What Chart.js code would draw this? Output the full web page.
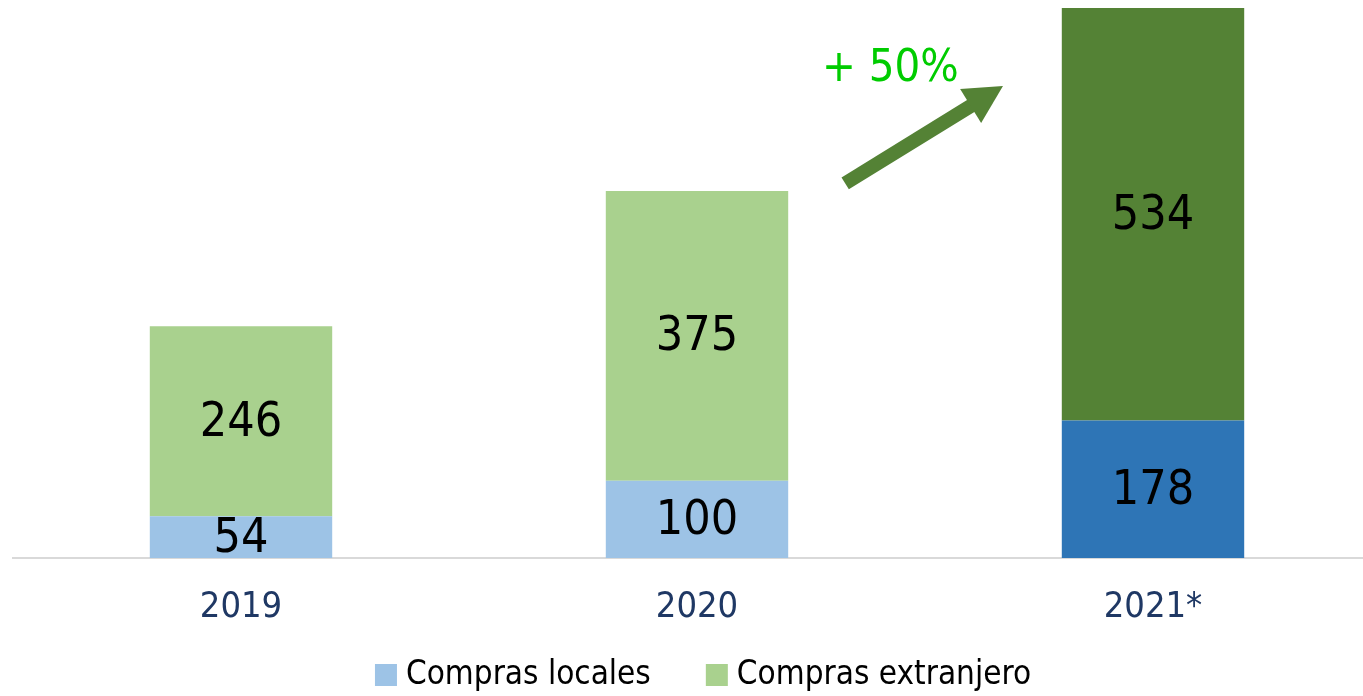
<!DOCTYPE html>
<html>
<head>
<meta charset="utf-8">
<script src="https://cdn.jsdelivr.net/npm/chart.js@4.4.0/dist/chart.umd.min.js"></script>
<style>
  html, body { margin: 0; padding: 0; background: #fff; overflow: hidden; }
  #wrap { position: relative; width: 1390px; height: 696px; }
</style>
</head>
<body>
<div id="wrap"><canvas id="chart"></canvas></div>
<script>
// chart data
const years = ['2019', '2020', '2021*'];
const localPurchases = [54, 100, 178];
const foreignPurchases = [246, 375, 534];
const seriesNames = ['Compras locales', 'Compras extranjero'];
const growthLabel = '+ 50%';

const FONT = '"Liberation Sans Narrow", "DejaVu Sans Condensed", "Roboto", sans-serif';

// colours: 2021 bars are drawn darker
const localColors = ['#9DC3E6', '#9DC3E6', '#2E75B6'];
const foreignColors = ['#A9D18E', '#A9D18E', '#548235'];

// write the value in the middle of each bar segment
const barLabels = {
  id: 'barLabels',
  afterDatasetsDraw(chart) {
    const ctx = chart.ctx;
    ctx.save();
    ctx.font = '48px ' + FONT;
    ctx.fillStyle = '#000';
    ctx.textAlign = 'center';
    ctx.textBaseline = 'middle';
    chart.data.datasets.forEach((ds, i) => {
      chart.getDatasetMeta(i).data.forEach((bar, j) => {
        const y = (bar.y + bar.base) / 2;
        ctx.fillText(String(ds.data[j]), bar.x, y + 2);
      });
    });
    ctx.restore();
  }
};

// growth arrow between 2020 and 2021, placed in data units
const growthArrow = {
  id: 'growthArrow',
  afterDraw(chart) {
    const xs = chart.scales.x, ys = chart.scales.y;
    const ctx = chart.ctx;
    const x0 = xs.getPixelForValue(1.325), y0 = ys.getPixelForValue(485);
    const x1 = xs.getPixelForValue(1.671), y1 = ys.getPixelForValue(611);
    const ang = Math.atan2(y1 - y0, x1 - x0);
    const headLen = 38, headHalf = 20;
    const bx = x1 - headLen * Math.cos(ang), by = y1 - headLen * Math.sin(ang);
    ctx.save();
    ctx.strokeStyle = '#548235';
    ctx.fillStyle = '#548235';
    ctx.lineWidth = 14;
    ctx.beginPath();
    ctx.moveTo(x0, y0);
    ctx.lineTo(bx + 2 * Math.cos(ang), by + 2 * Math.sin(ang));
    ctx.stroke();
    ctx.beginPath();
    ctx.moveTo(x1, y1);
    ctx.lineTo(bx + headHalf * Math.sin(ang), by - headHalf * Math.cos(ang));
    ctx.lineTo(bx - headHalf * Math.sin(ang), by + headHalf * Math.cos(ang));
    ctx.closePath();
    ctx.fill();

    ctx.font = '45px ' + FONT;
    ctx.fillStyle = '#00CC00';
    ctx.textAlign = 'center';
    ctx.textBaseline = 'middle';
    ctx.fillText(growthLabel, xs.getPixelForValue(1.424), ys.getPixelForValue(632));
    ctx.restore();
  }
};

// legend under the axis labels, wider spacing than the built-in one
const bottomLegend = {
  id: 'bottomLegend',
  afterDraw(chart) {
    const ctx = chart.ctx;
    const box = 22, textGap = 9, itemGap = 55;
    ctx.save();
    ctx.font = '33px ' + FONT;
    const items = chart.data.datasets.map(ds => ({
      text: ds.label,
      color: ds.backgroundColor[0],
      w: box + textGap + ctx.measureText(ds.label).width
    }));
    const total = items.reduce((s, it) => s + it.w, 0) + itemGap * (items.length - 1);
    const area = chart.chartArea;
    let x = (area.left + area.right) / 2 + 6 - total / 2;
    const cy = chart.height - 21;
    ctx.textBaseline = 'middle';
    ctx.textAlign = 'left';
    items.forEach(it => {
      ctx.fillStyle = it.color;
      ctx.fillRect(x, cy - box / 2, box, box);
      ctx.fillStyle = '#000';
      ctx.fillText(it.text, x + box + textGap, cy);
      x += it.w + itemGap;
    });
    ctx.restore();
  }
};

new Chart(document.getElementById('chart'), {
  type: 'bar',
  data: {
    labels: years,
    datasets: [
      { label: seriesNames[0], data: localPurchases, backgroundColor: localColors },
      { label: seriesNames[1], data: foreignPurchases, backgroundColor: foreignColors }
    ]
  },
  options: {
    responsive: true,
    maintainAspectRatio: false,
    animation: false,
    layout: { padding: { left: 13, right: 9, top: 8, bottom: 0 } },
    datasets: { bar: { barPercentage: 0.4, categoryPercentage: 1, borderWidth: 0 } },
    plugins: {
      tooltip: { enabled: false },
      legend: { display: false }
    },
    scales: {
      x: {
        stacked: true,
        grid: { display: false, drawTicks: false },
        border: { color: '#D9D9D9', width: 2 },
        ticks: { color: '#1F3864', font: { family: FONT, size: 36 }, padding: 28 },
        afterFit(scale) { scale.height = 138; }
      },
      y: {
        stacked: true,
        display: false,
        min: 0,
        max: 712
      }
    }
  },
  plugins: [barLabels, growthArrow, bottomLegend]
});
</script>
</body>
</html>
